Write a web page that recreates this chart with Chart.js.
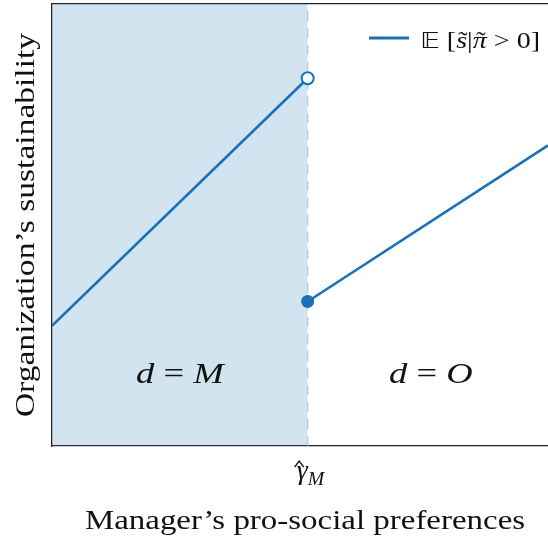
<!DOCTYPE html>
<html>
<head>
<meta charset="utf-8">
<script src="https://cdn.jsdelivr.net/npm/chart.js@4/dist/chart.umd.min.js"></script>
<style>
  html, body { margin: 0; padding: 0; background: #fff; }
  canvas { display: block; }
</style>
</head>
<body>
<canvas id="chart" width="548" height="540"></canvas>
<script>
// ── Data ──
const gammaHat = 1;                 // threshold on the x axis
const xRange = [0, 1.94];
const yRange = [0, 1];
const managerX = [0, 1];            // d = M branch
const managerY = [0.272, 0.832];
const ownerX = [1, 1.94];           // d = O branch
const ownerY = [0.327, 0.680];
const regionNames = ['M', 'O'];
const regionLabelY = 0.165;
const xTitle = 'Manager\u2019s pro-social preferences';
const yTitle = 'Organization\u2019s sustainability';

// ── Style ──
const BLUE = '#1b71b8';
const SHADE = 'rgba(31,119,180,0.2)';
const INK = '#111';
const SERIF = "'Liberation Serif', 'DejaVu Serif', serif";
const STRETCH = 1.22;   // Times metrics are narrower than Computer Modern

const toPts = (xs, ys) => xs.map((x, i) => ({ x: x, y: ys[i] }));

// draw a row of text runs (italic / tilde accents), stretched horizontally
function drawRuns(ctx, runs, x, y, size, align) {
    const fontOf = r => (r.it ? 'italic ' : '') + (r.size || size) + 'px ' + (r.family || SERIF);
    let total = 0;
    runs.forEach(r => { ctx.font = fontOf(r); r.w = ctx.measureText(r.t).width; total += r.w; });
    let start = x;
    if (align === 'center') start = x - total * STRETCH / 2;
    if (align === 'right') start = x - total * STRETCH;
    ctx.save();
    ctx.translate(start, y);
    ctx.scale(STRETCH, 1);
    ctx.textAlign = 'left';
    let cx = 0;
    runs.forEach(r => {
        ctx.font = fontOf(r);
        ctx.fillText(r.t, cx, r.dy || 0);
        if (r.tilde) {
            ctx.font = size + 'px ' + SERIF;
            ctx.textAlign = 'center';
            ctx.fillText('\u02DC', cx + r.w / 2 + 1, 0);
            ctx.textAlign = 'left';
        }
        cx += r.w;
    });
    ctx.restore();
}

const textPlugin = {
    id: 'texts',
    afterDraw(chart) {
        const { ctx, chartArea } = chart;
        const xs = chart.scales.x, ys = chart.scales.y;
        ctx.save();
        ctx.fillStyle = INK;
        ctx.strokeStyle = INK;
        ctx.textBaseline = 'alphabetic';

        // region labels, "d = M" / "d = O"
        const bounds = [[xRange[0], gammaHat], [gammaHat, xRange[1]]];
        const ly = ys.getPixelForValue(regionLabelY) + 10;
        regionNames.forEach((name, i) => {
            const cx = (xs.getPixelForValue(bounds[i][0]) + xs.getPixelForValue(bounds[i][1])) / 2;
            drawRuns(ctx, [
                { t: 'd', it: true },
                { t: ' = ' },
                { t: name, it: true },
            ], cx + i * 3, ly, 30, 'center');
        });

        // tick label: gamma hat, subscript M
        const tx = xs.getPixelForValue(gammaHat);
        const tb = chartArea.bottom;
        ctx.textAlign = 'right';
        ctx.font = 'italic 28px ' + SERIF;
        ctx.fillText('\u03B3', tx, tb + 33);
        ctx.lineWidth = 1.3;
        ctx.beginPath();
        ctx.moveTo(tx - 13, tb + 21);
        ctx.lineTo(tx - 8.5, tb + 15);
        ctx.lineTo(tx - 4, tb + 21);
        ctx.stroke();
        ctx.textAlign = 'left';
        ctx.font = 'italic 18px ' + SERIF;
        ctx.save();
        ctx.translate(tx, tb + 39);
        ctx.scale(1.1, 1);
        ctx.fillText('M', 0, 0);
        ctx.restore();

        // axis titles
        drawRuns(ctx, [{ t: xTitle }], (chartArea.left + chartArea.right) / 2 + 5, chartArea.bottom + 83, 27, 'center');
        ctx.save();
        ctx.translate(chartArea.left - 18, (chartArea.top + chartArea.bottom) / 2);
        ctx.rotate(-Math.PI / 2);
        drawRuns(ctx, [{ t: yTitle }], 0, 0, 27.5, 'center');
        ctx.restore();

        // legend
        const lx = chartArea.right - 179, lyy = chartArea.top + 34;
        ctx.strokeStyle = BLUE;
        ctx.lineWidth = 3;
        ctx.beginPath();
        ctx.moveTo(lx, lyy); ctx.lineTo(lx + 40, lyy);
        ctx.stroke();
        drawRuns(ctx, [
            { t: '\u{1D53C}', family: "'DejaVu Sans', sans-serif", size: 22 },
            { t: ' [' },
            { t: 's', it: true, tilde: true },
            { t: '|' },
            { t: '\u03C0', it: true, tilde: true },
            { t: ' > 0]' },
        ], chartArea.right - 8, lyy + 10, 23, 'right');
        ctx.restore();
    }
};

new Chart(document.getElementById('chart'), {
    type: 'line',
    data: {
        datasets: [
            {
                label: 'manager',
                data: toPts(managerX, managerY),
                borderColor: BLUE,
                borderWidth: 2.6,
                pointRadius: [0, 6],
                pointBackgroundColor: '#fff',
                pointBorderColor: BLUE,
                pointBorderWidth: 2,
                order: 0,
            },
            {
                label: 'owner',
                data: toPts(ownerX, ownerY),
                borderColor: BLUE,
                borderWidth: 2.6,
                pointRadius: [6.5, 0],
                pointBackgroundColor: BLUE,
                pointBorderColor: BLUE,
                pointBorderWidth: 0,
                order: 0,
            },
            {
                label: 'threshold',
                data: toPts([gammaHat, gammaHat], yRange),
                borderColor: 'rgba(170,180,190,0.7)',
                borderWidth: 1.3,
                borderDash: [10, 7],
                pointRadius: 0,
                order: 2,
            },
            {
                label: 'shade',
                data: toPts([xRange[0], gammaHat], [yRange[1], yRange[1]]),
                borderWidth: 0,
                backgroundColor: SHADE,
                fill: 'origin',
                pointRadius: 0,
                order: 3,
            }
        ]
    },
    options: {
        responsive: false,
        animation: false,
        layout: { autoPadding: false, padding: { left: 52, top: 4, right: 0, bottom: 94 } },
        plugins: {
            legend: { display: false },
            tooltip: { enabled: false },
        },
        scales: {
            x: {
                type: 'linear',
                min: xRange[0],
                max: xRange[1],
                grid: { display: false, drawTicks: false },
                ticks: { display: false },
                border: { display: true, color: '#222', width: 1.3 },
            },
            x2: {
                type: 'linear',
                position: 'top',
                min: xRange[0],
                max: xRange[1],
                grid: { display: false, drawTicks: false },
                ticks: { display: false },
                border: { display: true, color: '#222', width: 1.3 },
            },
            y: {
                min: yRange[0],
                max: yRange[1],
                grid: { display: false, drawTicks: false },
                ticks: { display: false },
                border: { display: true, color: '#222', width: 1.3 },
            }
        }
    },
    plugins: [textPlugin]
});
</script>
</body>
</html>
